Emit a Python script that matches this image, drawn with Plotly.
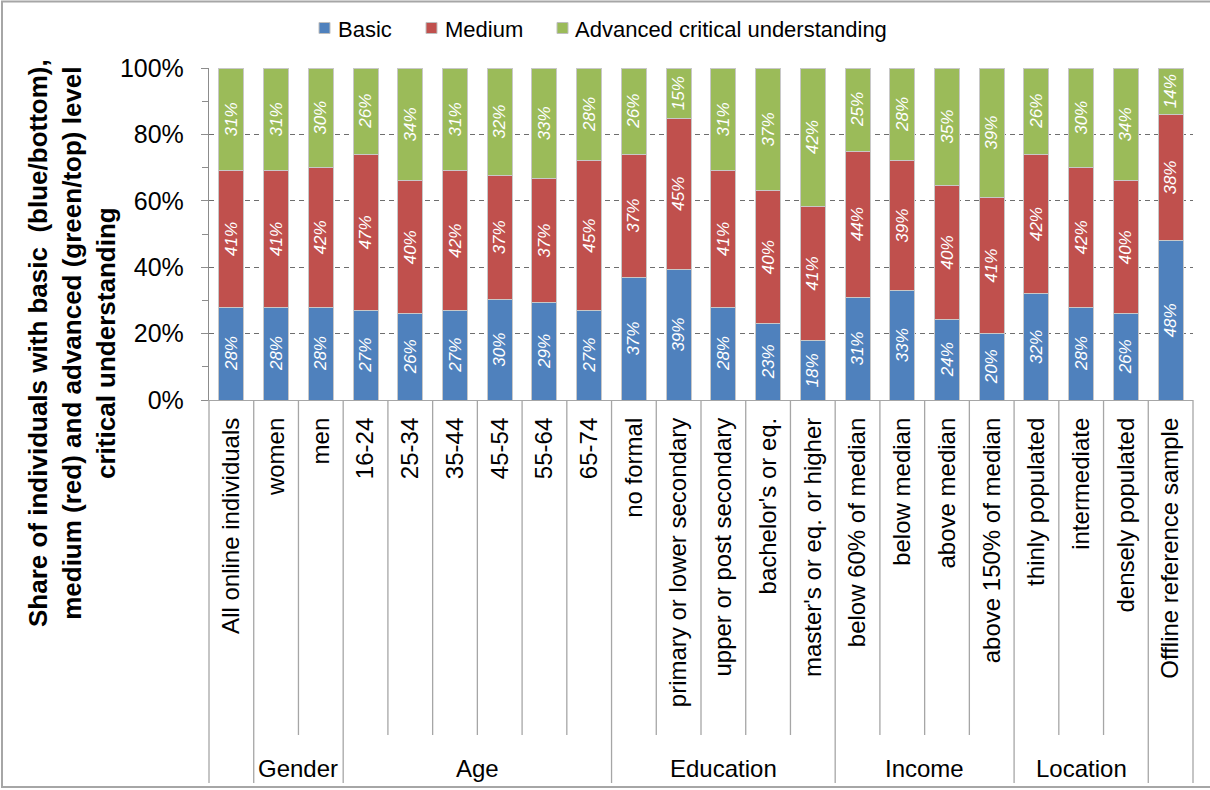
import plotly.graph_objects as go

# ---- data -------------------------------------------------------------
categories = [
    "All online individuals", "women", "men",
    "16-24", "25-34", "35-44", "45-54", "55-64", "65-74",
    "no formal", "primary or lower secondary", "upper or post secondary",
    "bachelor's or eq.", "master's or eq. or higher",
    "below 60% of median", "below median", "above median", "above 150% of median",
    "thinly populated", "intermediate", "densely populated",
    "Offline reference sample",
]
group_names = ["", "Gender", "Age", "Education", "Income", "Location", ""]
group_sizes = [1, 2, 6, 5, 4, 3, 1]

basic = [28, 28, 28, 27, 26, 27, 30, 29, 27, 37, 39, 28, 23, 18, 31, 33, 24, 20, 32, 28, 26, 48]
medium = [41, 41, 42, 47, 40, 42, 37, 37, 45, 37, 45, 41, 40, 41, 44, 39, 40, 41, 42, 42, 40, 38]
advanced = [31, 31, 30, 26, 34, 31, 32, 33, 28, 26, 15, 31, 37, 42, 25, 28, 35, 39, 26, 30, 34, 14]

series_names = ["Basic", "Medium", "Advanced critical understanding"]
series_colors = ["#4F81BD", "#C0504D", "#9BBB59"]
y_ticks = [0, 20, 40, 60, 80, 100]
y_tick_labels = [f"{v}%" for v in y_ticks]

# ---- layout geometry (pixels) ----------------------------------------
W_FIG, H_FIG = 1210, 790
L, R, T, B = 209, 1193, 68, 400
PW, PH = R - L, B - T
FONT = "Liberation Sans, Arial, sans-serif"
GRAY = "#8C8C8C"


def px_x(p):
    return (p - L) / PW


def px_y(p):
    return (B - p) / PH


fig = go.Figure()
for name, vals, col in zip(series_names, [basic, medium, advanced], series_colors):
    fig.add_trace(go.Bar(
        x=categories, y=vals, name=name,
        marker=dict(color=col, line=dict(color="#C8C8C8", width=1)),
        text=[f"{v}%" for v in vals],
        textposition="inside", textangle=-90, insidetextanchor="middle",
        constraintext="none",
        textfont=dict(color="white", size=17, style="italic", family=FONT),
        showlegend=False, hoverinfo="skip",
    ))

shapes = []
annotations = []

# separators below the category axis
n = len(categories)
starts = [0]
for s in group_sizes:
    starts.append(starts[-1] + s)
group_edges = set(starts)
for k in range(n + 1):
    bottom = 783 if k in group_edges else 735
    shapes.append(dict(type="line", xref="paper", yref="paper",
                       x0=k / n, x1=k / n, y0=0, y1=px_y(bottom),
                       line=dict(color="#A6A6A6", width=1.3)))

# group labels
for gname, a, b in zip(group_names, starts[:-1], starts[1:]):
    if gname:
        annotations.append(dict(text=gname, xref="paper", yref="paper",
                                x=(a + b) / 2 / n, y=px_y(768),
                                xanchor="center", yanchor="middle", showarrow=False,
                                font=dict(size=24, color="black", family=FONT)))

# legend row
legend_pos = [(319, 336), (426, 443), (557, 573)]
for (sq, tx), name, col in zip(legend_pos, series_names, series_colors):
    shapes.append(dict(type="rect", xref="paper", yref="paper",
                       x0=px_x(sq), x1=px_x(sq + 11), y0=px_y(33.5), y1=px_y(22.5),
                       fillcolor=col, line=dict(color="#BFBFBF", width=1)))
    annotations.append(dict(text=name, xref="paper", yref="paper",
                            x=px_x(tx), y=px_y(29.5), xanchor="left", yanchor="middle",
                            showarrow=False,
                            font=dict(size=22, color="black", family=FONT)))

# y-axis title
annotations.append(dict(
    text="<b>Share of individuals with basic  (blue/bottom),<br>"
         "medium (red) and advanced (green/top) level<br>"
         "critical understanding</b>",
    xref="paper", yref="paper", x=px_x(72), y=px_y(343),
    xanchor="center", yanchor="middle", textangle=-90, showarrow=False, align="center",
    font=dict(size=26, color="black", family=FONT)))

# chart frame
shapes.append(dict(type="rect", xref="paper", yref="paper",
                   x0=px_x(2), x1=px_x(1214), y0=px_y(787), y1=px_y(1.5),
                   line=dict(color="#A6A6A6", width=2), layer="below"))

fig.update_layout(
    width=W_FIG, height=H_FIG,
    margin=dict(l=L, r=W_FIG - R, t=T, b=H_FIG - B, autoexpand=False),
    barmode="stack", barnorm="percent", bargap=0.44,
    plot_bgcolor="white", paper_bgcolor="white",
    font=dict(family=FONT, color="black"),
    shapes=shapes, annotations=annotations,
    showlegend=False,
)
fig.update_xaxes(
    type="category", range=[-0.5, n - 0.5], tickangle=-90,
    tickfont=dict(size=24, color="black", family=FONT),
    showline=True, linecolor="#A6A6A6", linewidth=1.3,
    ticks="", showgrid=False, ticklabelstandoff=7, automargin=False,
)
fig.update_yaxes(
    range=[0, 100], tickmode="array", tickvals=y_ticks, ticktext=y_tick_labels,
    tickfont=dict(size=25, color="black", family=FONT),
    showline=True, linecolor=GRAY, linewidth=1.3,
    ticks="outside", ticklen=7, tickcolor=GRAY,
    minor=dict(ticks="outside", dtick=10, ticklen=6, tickcolor=GRAY, showgrid=False),
    showgrid=True, gridcolor="#6E6E6E", griddash="5px,4px", gridwidth=1,
    zeroline=False, ticklabelstandoff=12, automargin=False,
)

fig.write_html("out.html")
